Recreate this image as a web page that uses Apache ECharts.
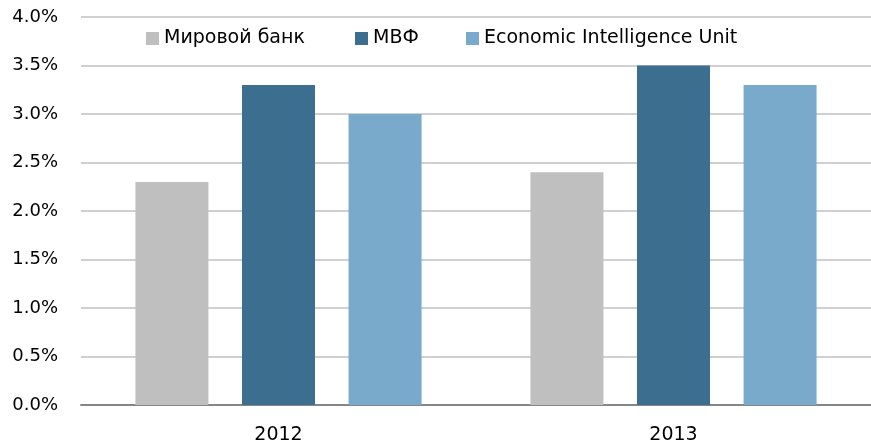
<!DOCTYPE html>
<html><head><meta charset="utf-8">
<script src="https://cdn.jsdelivr.net/npm/echarts@6/dist/echarts.min.js"></script>
<style>html,body{margin:0;padding:0;background:#fff}#c{width:871px;height:448px}</style>
</head><body><div id="c"></div>
<script>
const categories = ['2012', '2013'];
const seriesNames = ['Мировой банк', 'МВФ', 'Economic Intelligence Unit'];
const worldBank = [2.3, 2.4];
const imf = [3.3, 3.5];
const eiu = [3.0, 3.3];
const colors = ['#BFBFBF', '#3B6E8F', '#7AAACB'];
const values = [worldBank, imf, eiu];
const font = 'DejaVu Sans';
const legendLeft = [141, 350, 461];
const chart = echarts.init(document.getElementById('c'));
chart.setOption({
  animation: false,
  grid: {left: 81, right: -2, top: 17, bottom: 43},
  legend: seriesNames.map((n, i) => ({
    top: 24, left: legendLeft[i], itemWidth: 13, itemHeight: 13,
    icon: 'rect',
    textStyle: {fontFamily: font, fontSize: 19, color: '#000', lineHeight: 13},
    data: [n]
  })),
  xAxis: {
    type: 'category', data: categories,
    axisLine: {lineStyle: {color: '#868686', width: 2}},
    axisTick: {show: false},
    axisLabel: {fontFamily: font, fontSize: 19, color: '#000', margin: 21}
  },
  yAxis: {
    type: 'value', min: 0, max: 4, interval: 0.5,
    axisLine: {show: false}, axisTick: {show: false},
    splitLine: {lineStyle: {color: '#D0D0D0', width: 2}},
    axisLabel: {fontFamily: font, fontSize: 18, color: '#000', margin: 23,
      formatter: v => v.toFixed(1) + '%'}
  },
  series: seriesNames.map((n, i) => ({
    name: n, type: 'bar', data: values[i],
    itemStyle: {color: colors[i]},
    barWidth: 73, barGap: '46%', barCategoryGap: '27%'
  }))
});
</script></body></html>
